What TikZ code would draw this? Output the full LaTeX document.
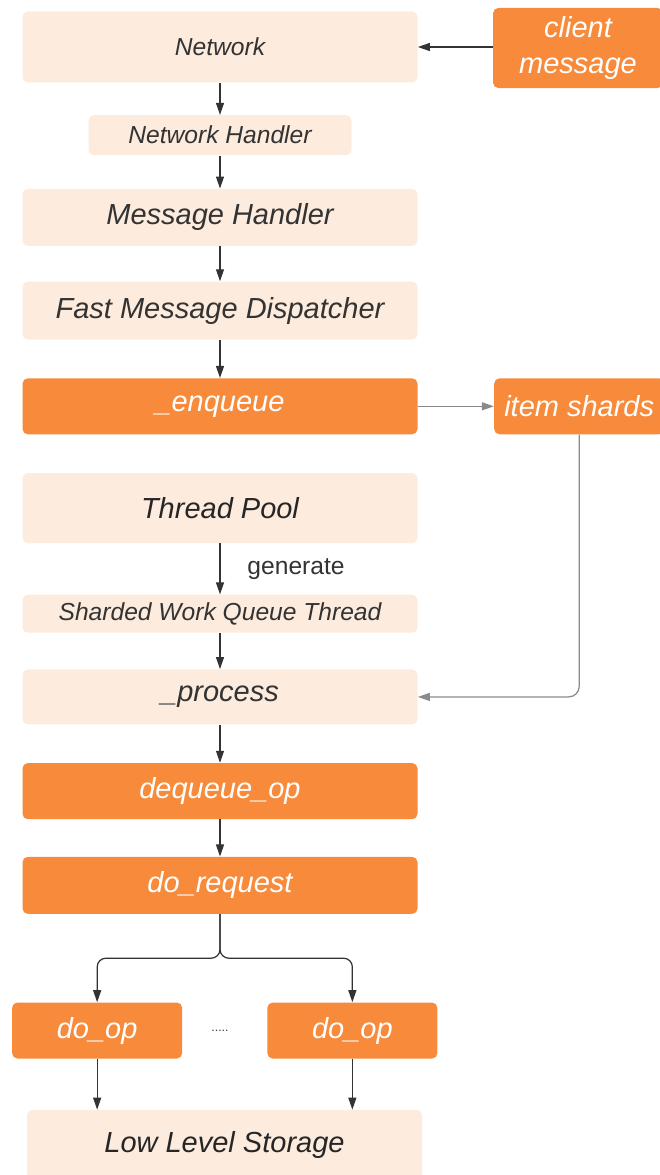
\documentclass[tikz,border=0pt]{standalone}
\usepackage{fontspec}
\setmainfont{Liberation Sans}
\usepackage{xcolor}
\usetikzlibrary{arrows.meta,positioning}
\definecolor{peach}{HTML}{FDEBDD}
\definecolor{tangerine}{HTML}{F78B3B}
\definecolor{inkgray}{HTML}{333333}
\definecolor{wiregray}{HTML}{8A8A8A}

\begin{document}
\begin{tikzpicture}[
    lightbox/.style={fill=peach,rounded corners=3pt,inner sep=0pt,
        minimum width=7.9cm,text=inkgray,font=\fontsize{16.5}{20}\selectfont\itshape},
    hotbox/.style={fill=tangerine,rounded corners=3pt,inner sep=0pt,
        minimum width=7.9cm,text=white,font=\fontsize{16.5}{20}\selectfont\itshape},
    smalltxt/.style={font=\fontsize{14}{17}\selectfont\itshape},
    flow/.style={draw=inkgray,line width=0.7pt,-{Triangle[length=2.4mm,width=1.6mm]}},
    feed/.style={flow,draw=wiregray}]
  \useasboundingbox (0,0) rectangle (13.18,-23.5);

  % receive path
  \node[lightbox,smalltxt,minimum height=1.42cm] (net) at (4.4,-0.94) {Network};
  \node[lightbox,smalltxt,minimum width=5.26cm,minimum height=0.8cm,
        below=0.64cm of net] (nethandler) {Network Handler};
  \node[lightbox,minimum height=1.14cm,below=0.66cm of nethandler] (msghandler) {Message Handler};
  \node[lightbox,minimum height=1.16cm,below=0.7cm of msghandler] (dispatcher) {Fast Message Dispatcher};
  \node[hotbox,minimum height=1.12cm,below=0.76cm of dispatcher] (enq) {\_enqueue};

  \node[hotbox,minimum width=3.4cm,minimum height=1.6cm,align=center,
        font=\fontsize{16.5}{21}\selectfont\itshape] (client) at (11.56,-0.96) {client\\message};
  \node[hotbox,minimum width=3.4cm,minimum height=1.12cm,
        right=1.52cm of enq] (shards) {item shards};

  % worker side
  \node[lightbox,minimum height=1.4cm,below=0.76cm of enq,text=black!85] (pool) {Thread Pool};
  \node[lightbox,smalltxt,minimum height=0.76cm,below=1.02cm of pool] (swq) {Sharded Work Queue Thread};
  \node[lightbox,minimum height=1.1cm,below=0.72cm of swq] (proc) {\_process};
  \node[hotbox,minimum height=1.12cm,below=0.76cm of proc] (deq) {dequeue\_op};
  \node[hotbox,minimum height=1.14cm,below=0.74cm of deq] (req) {do\_request};

  \node[hotbox,minimum width=3.4cm,minimum height=1.12cm,
        below=1.76cm of req.south west,anchor=north,xshift=1.5cm] (opl) {do\_op};
  \node[hotbox,minimum width=3.4cm,minimum height=1.12cm,
        below=1.76cm of req.south east,anchor=north,xshift=-1.31cm] (opr) {do\_op};
  \node[text=inkgray,font=\scriptsize] (dots) at (opl -| req) {.....};
  \coordinate[below=0.88cm of req] (split);

  \node[lightbox,minimum height=1.4cm,text=black!85] (storage) at (4.49,-22.9) {Low Level Storage};

  \draw[flow] (client.west |- net.east) -- (net.east);
  \draw[flow] (net) -- (nethandler);
  \draw[flow] (nethandler) -- (msghandler);
  \draw[flow] (msghandler) -- (dispatcher);
  \draw[flow] (dispatcher) -- (enq);
  \draw[feed] (enq) -- (shards);
  \draw[feed,rounded corners=6pt] (shards) |- (proc);
  \draw[flow] (pool) -- node[right=0.42cm,text=inkgray,font=\fontsize{14}{17}\selectfont] {generate} (swq);
  \draw[flow] (swq) -- (proc);
  \draw[flow] (proc) -- (deq);
  \draw[flow] (deq) -- (req);
  \draw[flow,rounded corners=5pt] (req) -- (split) -| (opl);
  \draw[flow,rounded corners=5pt] (req) -- (split) -| (opr);
  \draw[flow] (opl.south) -- (opl.south |- storage.north);
  \draw[flow] (opr.south) -- (opr.south |- storage.north);
\end{tikzpicture}
\end{document}
